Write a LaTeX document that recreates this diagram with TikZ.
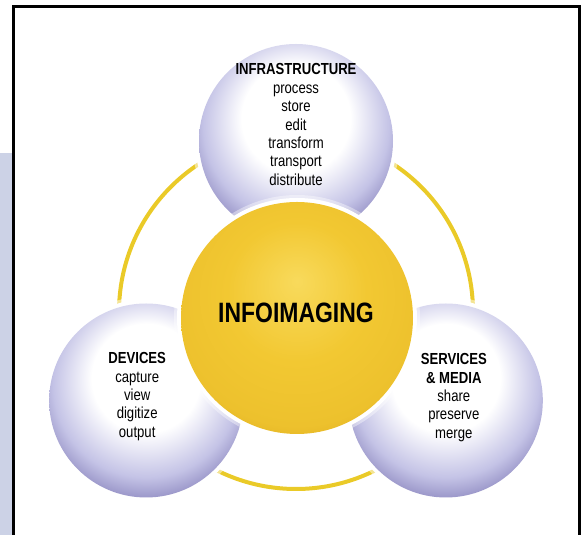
\documentclass[tikz,border=0pt]{standalone}
\usepackage{fontspec}
\setmainfont{Liberation Sans}[FakeStretch=0.82]
\usetikzlibrary{positioning}

\definecolor{lavlight}{RGB}{196,195,230}
\definecolor{lavmid}{RGB}{150,146,198}
\definecolor{lavdark}{RGB}{108,103,160}
\definecolor{sunhi}{RGB}{248,218,92}
\definecolor{sunmid}{RGB}{242,200,50}
\definecolor{sunedge}{RGB}{222,172,30}
\definecolor{ringyellow}{RGB}{234,202,40}
\definecolor{bandblue}{RGB}{204,210,230}

\pgfdeclareradialshading{lavball}{\pgfpoint{0bp}{8bp}}{color(0bp)=(white); color(14bp)=(white); color(24bp)=(lavlight); color(29bp)=(lavmid); color(35bp)=(lavdark); color(50bp)=(lavdark)}
\pgfdeclareradialshading{sunball}{\pgfpoint{0bp}{8bp}}{color(0bp)=(sunhi); color(6bp)=(sunhi!60!sunmid); color(15bp)=(sunmid); color(27bp)=(sunmid!75!sunedge); color(33bp)=(sunedge); color(50bp)=(sunedge)}

\begin{document}
\begin{tikzpicture}[x=1pt, y=1pt,
    sphere/.style={circle, inner sep=0pt, minimum size=194pt, shading=lavball,
      preaction={draw=white, opacity=.5, line width=14pt},
      preaction={draw=white, line width=8pt}},
    coreball/.style={circle, inner sep=0pt, minimum size=232pt, shading=sunball,
      preaction={draw=white, opacity=.4, line width=14pt},
      preaction={draw=white, line width=8pt}},
    ballnote/.style={align=center, inner sep=0pt, font=\fontsize{16}{18.4}\selectfont},
    ringline/.style={draw=ringyellow, line width=4pt}]
  \useasboundingbox (0,0) rectangle (582,535);
  % side band and frame
  \fill[bandblue] (0,0) rectangle (12,382);
  \draw[line width=2.5pt] (13.3,0) |- (579.3,528.3) -- (579.3,0);
  % ring behind the spheres
  \coordinate (hub) at (296,221);
  \coordinate (ring) at (296,223);
  \draw[ringline] (ring) circle[radius=177];
  % outer spheres
  \node[sphere] (infra) at ([yshift=173pt]hub) {};
  \node[sphere] (devices) at ([shift={(210:173pt)}]hub) {};
  \node[sphere] (services) at ([shift={(330:173pt)}]hub) {};
  % centre sphere
  \node[coreball] (core) at (297,217) {};
  % texts
  \node[ballnote] (infratext) at ([yshift=16.5pt]infra.center)
    {\textbf{INFRASTRUCTURE}\\process\\store\\edit\\transform\\transport\\distribute};
  \node[ballnote] (devicestext) at ([xshift=-9pt,yshift=4pt]devices.center)
    {\textbf{DEVICES}\\capture\\view\\digitize\\output};
  \node[ballnote] (servicestext) at ([xshift=8pt,yshift=3pt]services.center)
    {\textbf{SERVICES}\\\textbf{\& MEDIA}\\share\\preserve\\merge};
  \node[font=\bfseries\fontsize{28}{30}\selectfont, inner sep=0pt] (coretext)
    at ([xshift=-1pt,yshift=4.7pt]core.center) {INFOIMAGING};
\end{tikzpicture}
\end{document}
